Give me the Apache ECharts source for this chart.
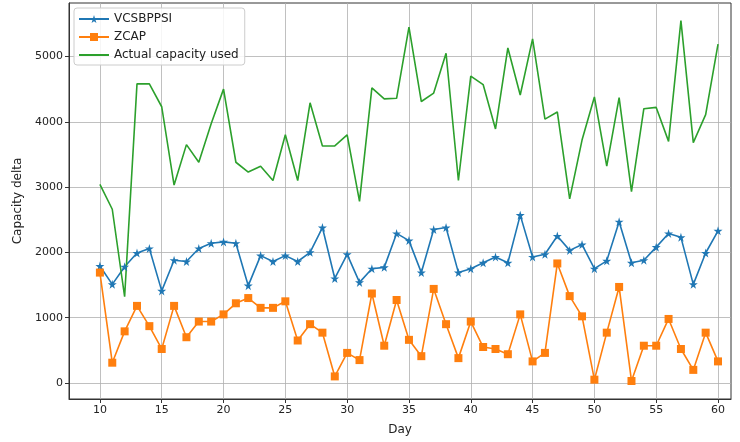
<!DOCTYPE html>
<html>
<head>
<meta charset="utf-8">
<script src="https://cdn.jsdelivr.net/npm/echarts@6/dist/echarts.min.js"></script>
<style>
html,body{margin:0;padding:0;background:#fff;}
#chart{width:740px;height:442px;}
</style>
</head>
<body>
<div id="chart"></div>
<script>
var days = [];
for (var d = 10; d <= 60; d++) days.push(d);

var vcsbppsi = [1790,1510,1780,1990,2060,1410,1880,1860,2060,2140,2160,2140,1490,1950,1860,1950,
	1860,2000,2380,1600,1970,1540,1750,1770,2290,2180,1690,2350,2380,1690,1750,1840,1930,
	1840,2570,1930,1970,2250,2030,2120,1750,1870,2470,1840,1880,2080,2290,2230,1510,1990,2330];
var zcap = [1690,310,790,1180,870,520,1180,700,940,940,1050,1220,1300,1150,1150,1250,
	650,900,770,100,460,350,1370,570,1270,660,410,1440,900,380,940,550,520,
	440,1050,330,460,1830,1330,1020,50,770,1470,30,570,570,980,520,200,770,330];
var actual = [3040,2660,1320,4580,4580,4230,3030,3650,3380,3970,4500,3380,3230,3320,3100,3800,
	3100,4290,3630,3630,3800,2780,4520,4350,4360,5450,4310,4440,5050,3100,4700,4570,3890,
	5130,4410,5270,4040,4150,2820,3720,4380,3320,4370,2930,4200,4220,3700,5550,3680,4110,5190];

var xTicks = [10,15,20,25,30,35,40,45,50,55,60];
var yTicks = [0,1000,2000,3000,4000,5000];

function pairs(vals){
	return days.map(function(d, i){ return [d, vals[i]]; });
}

var starPath = 'path://M50,0 L61,35 L98,35 L68,57 L79,91 L50,70 L21,91 L32,57 L2,35 L39,35 Z';

var chart = echarts.init(document.getElementById('chart'));
var font = 'DejaVu Sans';
chart.setOption({
	animation: false,
	textStyle: {fontFamily: font},
	grid: {
		left: 69, right: 9, top: 3, bottom: 43,
		show: true, borderColor: '#333', borderWidth: 1, backgroundColor: '#fff'
	},
	legend: {
		orient: 'vertical',
		left: 74, top: 8,
		padding: [5, 6, 4, 4],
		itemWidth: 30, itemHeight: 10, itemGap: 6,
		backgroundColor: 'rgba(255,255,255,0.85)',
		borderColor: '#ccc', borderWidth: 1, borderRadius: 3,
		textStyle: {fontFamily: font, fontSize: 12, color: '#222'},
		data: ['VCSBPPSI', 'ZCAP', {name: 'Actual capacity used', itemStyle: {color: 'rgba(0,0,0,0)', borderWidth: 0}}]
	},
	xAxis: {
		type: 'value', min: 7.5, max: 61.05,
		name: 'Day', nameLocation: 'middle', nameGap: 25,
		nameTextStyle: {fontFamily: font, fontSize: 12, color: '#222'},
		axisLine: {show: true, onZero: false, lineStyle: {color: '#333'}},
		axisTick: {show: true, length: 4, customValues: xTicks, lineStyle: {color: '#333'}},
		axisLabel: {customValues: xTicks, fontSize: 11, color: '#222', margin: 6},
		splitLine: {show: true, lineStyle: {color: '#b0b0b0', width: 0.8}}
	},
	yAxis: {
		type: 'value', min: -246, max: 5819,
		name: 'Capacity delta', nameLocation: 'middle', nameGap: 43,
		nameTextStyle: {fontFamily: font, fontSize: 12, color: '#222'},
		axisLine: {show: true, onZero: false, lineStyle: {color: '#333'}},
		axisTick: {show: true, length: 4, customValues: yTicks, lineStyle: {color: '#333'}},
		axisLabel: {customValues: yTicks, fontSize: 11, color: '#222', margin: 6,
			formatter: function(v){ return String(v); }},
		splitLine: {show: true, lineStyle: {color: '#b0b0b0', width: 0.8}}
	},
	series: [
		{
			name: 'VCSBPPSI', type: 'line', data: pairs(vcsbppsi),
			symbol: starPath, symbolSize: 9, showAllSymbol: true,
			itemStyle: {color: '#1f77b4'},
			lineStyle: {color: '#1f77b4', width: 1.6}
		},
		{
			name: 'ZCAP', type: 'line', data: pairs(zcap),
			symbol: 'rect', symbolSize: 8, showAllSymbol: true,
			itemStyle: {color: '#ff7f0e'},
			lineStyle: {color: '#ff7f0e', width: 1.6}
		},
		{
			name: 'Actual capacity used', type: 'line', data: pairs(actual),
			symbol: 'none',
			itemStyle: {color: '#2ca02c'},
			lineStyle: {color: '#2ca02c', width: 1.6}
		}
	]
});
</script>
</body>
</html>
